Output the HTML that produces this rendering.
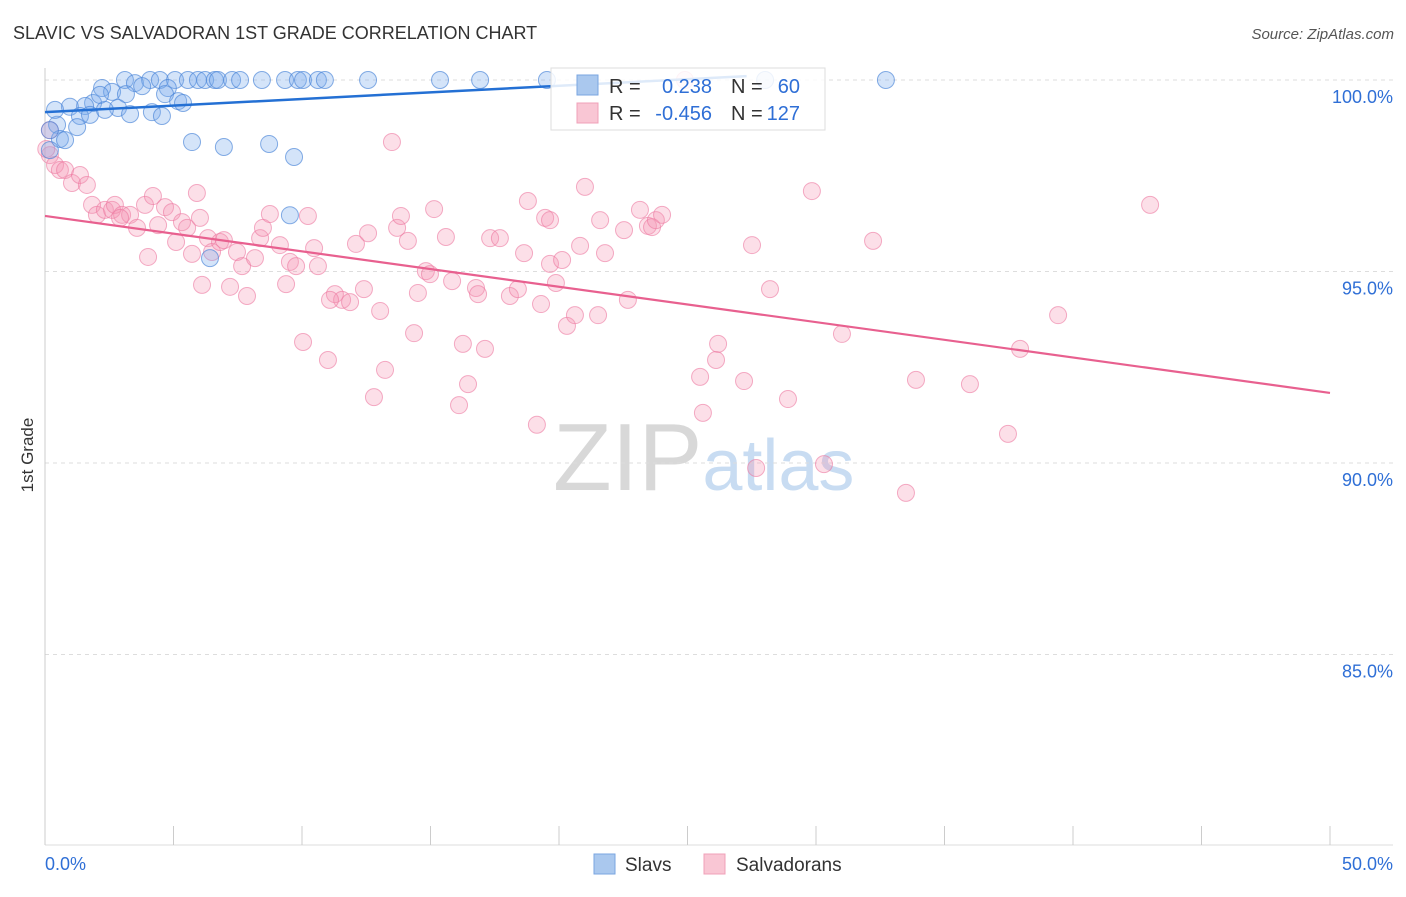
<!DOCTYPE html>
<html><head><meta charset="utf-8"><style>
body{margin:0;background:#fff;font-family:"Liberation Sans",sans-serif}
svg text{font-family:"Liberation Sans",sans-serif}
</style></head><body>
<svg id="chart" width="1406" height="892" xmlns="http://www.w3.org/2000/svg">
<text x="13" y="39" font-size="18" fill="#333">SLAVIC VS SALVADORAN 1ST GRADE CORRELATION CHART</text>
<text x="1394" y="39" font-size="15" fill="#555" text-anchor="end" font-style="italic">Source: ZipAtlas.com</text>
<text x="553" y="490" font-size="96" font-family="Liberation Serif" fill="#d8d8d8">ZIP<tspan fill="#c8dcf2" font-family="Liberation Sans" font-size="72">atlas</tspan></text>
<g id="grid"></g><g id="axes"></g><g id="marks"></g>
<text transform="translate(33,455) rotate(-90)" font-size="17" fill="#333" text-anchor="middle">1st Grade</text>
<g>
<rect x="551" y="68" width="274" height="62" fill="#fff" fill-opacity="0.85" stroke="#ddd"/>
<rect x="577" y="75" width="21" height="20" fill="#aac8ee" stroke="#7aa6e0"/>
<rect x="577" y="103" width="21" height="20" fill="#f9c6d4" stroke="#f0a0b8"/>
<text x="609" y="93" font-size="20" fill="#333">R =</text><text x="712" y="93" font-size="20" fill="#2f6fd6" text-anchor="end">0.238</text>
<text x="731" y="93" font-size="20" fill="#333">N =</text><text x="800" y="93" font-size="20" fill="#2f6fd6" text-anchor="end">60</text>
<text x="609" y="120" font-size="20" fill="#333">R =</text><text x="712" y="120" font-size="20" fill="#2f6fd6" text-anchor="end">-0.456</text>
<text x="731" y="120" font-size="20" fill="#333">N =</text><text x="800" y="120" font-size="20" fill="#2f6fd6" text-anchor="end">127</text>
</g>
<g>
<rect x="594" y="854" width="21" height="20" fill="#aac8ee" stroke="#7aa6e0"/>
<text x="625" y="871" font-size="19" fill="#333">Slavs</text>
<rect x="704" y="854" width="21" height="20" fill="#f9c6d4" stroke="#f0a0b8"/>
<text x="736" y="871" font-size="19" fill="#333">Salvadorans</text>
</g>
</svg>
<script>
const xTicks=[0,5,10,15,20,25,30,35,40,45,50];
const yTicks=[85,90,95,100];
const slavX=[3.11,3.5,4.09,4.47,5.06,5.56,5.95,6.23,6.61,6.73,7.28,7.59,8.44,9.34,9.84,10.04,10.62,10.89,12.57,15.37,16.93,19.53,28.02,32.72,3.78,4.78,2.22,2.61,3.15,4.67,5.18,5.37,1.87,0.97,1.56,2.84,3.31,4.16,1.36,1.75,4.55,1.25,0.47,0.58,0.78,5.72,6.96,8.72,9.69,9.53,6.42,0.19,0.19,2.33,2.14,0.39];
const slavY=[100,99.92,100,100,100,100,100,100,100,100,100,100,100,100,100,100,100,100,100,100,100,100,100,100,99.84,99.79,99.79,99.69,99.63,99.63,99.45,99.4,99.4,99.3,99.32,99.27,99.11,99.16,99.06,99.09,99.06,98.77,98.83,98.46,98.43,98.38,98.25,98.33,97.99,96.47,95.35,98.69,98.17,99.22,99.61,99.22];
const salX=[0.19,0.19,0.39,0.58,0.78,1.05,1.36,1.63,1.83,2.02,2.33,2.61,2.72,3.0,3.31,3.58,3.89,4.01,4.2,4.4,4.67,4.94,5.1,5.33,5.53,5.72,5.91,6.11,6.34,6.5,6.81,6.96,7.2,7.47,7.67,7.86,8.17,8.37,8.48,8.75,9.14,9.38,9.53,9.77,10.04,10.23,10.47,10.62,11.01,11.28,11.56,11.87,12.1,12.41,12.57,12.8,13.04,13.23,13.5,13.7,13.85,14.12,14.36,14.51,14.82,14.98,15.14,15.6,15.84,16.11,16.26,16.46,16.77,16.85,17.12,17.32,17.7,18.09,18.4,18.64,18.79,19.14,19.3,19.46,19.65,19.88,20.12,20.31,20.62,20.82,21.01,21.52,21.6,21.79,22.53,22.68,23.15,23.46,23.62,23.77,24.01,24.9,25.49,25.6,26.11,26.19,27.2,27.51,27.67,28.21,28.91,29.84,30.31,31.01,32.22,33.5,33.89,35.99,37.47,37.94,39.42,43.0,0.05,2.92,6.03,11.09,19.65];
const salY=[98.69,98.04,97.78,97.65,97.65,97.31,97.52,97.26,96.74,96.48,96.61,96.61,96.74,96.48,96.48,96.14,96.74,95.38,96.97,96.21,96.68,96.55,95.77,96.29,96.14,95.46,97.05,94.65,95.87,95.51,95.77,95.82,94.6,95.51,95.14,94.36,95.35,95.87,96.14,96.5,95.69,94.67,95.25,95.14,93.16,96.45,95.61,95.14,92.69,94.41,94.26,94.2,95.72,94.54,96.0,91.72,93.97,92.43,98.38,96.14,96.45,95.8,93.39,94.44,95.01,94.93,96.63,95.9,94.75,91.51,93.11,92.06,94.57,94.41,92.98,95.87,95.87,94.36,94.54,95.48,96.84,91.0,94.15,96.4,95.2,94.7,95.3,93.58,93.86,95.67,97.21,93.86,96.34,95.48,96.08,94.26,96.61,96.19,96.16,96.34,96.48,100,92.25,91.31,92.69,93.11,92.14,95.69,89.87,94.54,91.67,97.1,89.97,93.37,95.8,89.22,92.17,92.06,90.76,92.98,93.86,96.74,98.2,96.4,96.4,94.26,96.34];
const slavTrend=[[0,99.16],[27.3,100.1]];
const salTrend=[[0,96.45],[50,91.83]];
const X0=45,X1=1330,Y0=80,PER=38.3;
const sx=v=>X0+(v-0)/50*(X1-X0);
const sy=v=>Y0+(100-v)*PER;
const NS='http://www.w3.org/2000/svg';
function mk(t,a,p){const e=document.createElementNS(NS,t);for(const k in a)e.setAttribute(k,a[k]);p.appendChild(e);return e;}
const grid=document.getElementById('grid'),axes=document.getElementById('axes'),marks=document.getElementById('marks');
yTicks.forEach(v=>{
 const l=mk('line',{x1:X0,x2:1393,y1:sy(v),y2:sy(v),stroke:'#ddd','stroke-dasharray':'4,4'},grid);
 
 
 const t=mk('text',{x:1393,y:sy(v)+23,'font-size':18,fill:'#2f6fd6','text-anchor':'end'},grid);
 t.textContent=v.toFixed(1)+'%';
 
 
});
const ya=mk('line',{x1:X0,x2:X0,y1:68,y2:845,stroke:'#ccc'},axes);


const xa=mk('line',{x1:X0,x2:1393,y1:845,y2:845,stroke:'#ddd'},axes);


xTicks.forEach(v=>{
 const l=mk('line',{x1:sx(v),x2:sx(v),y1:826,y2:845,stroke:'#ccc'},axes);
 
 
});
[[0,'start'],[50,'end']].forEach(([v,a])=>{
 const t=mk('text',{x:v==0?sx(v):1393,y:870,'font-size':18,fill:'#2f6fd6','text-anchor':a},axes);
 t.textContent=v.toFixed(1)+'%';
 
 
});
salX.forEach((x,i)=>{
 const c=mk('circle',{cx:sx(x),cy:sy(salY[i]),r:8.5,fill:'rgba(244,150,180,0.3)',stroke:'rgba(236,120,160,0.6)','stroke-width':1},marks);
 
 
});
slavX.forEach((x,i)=>{
 const c=mk('circle',{cx:sx(x),cy:sy(slavY[i]),r:8.5,fill:'rgba(120,170,235,0.32)',stroke:'rgba(70,130,215,0.65)','stroke-width':1},marks);
 
 
});
const t1=mk('line',{x1:sx(slavTrend[0][0]),y1:sy(slavTrend[0][1]),x2:sx(slavTrend[1][0]),y2:sy(slavTrend[1][1]),stroke:'#2470d4','stroke-width':2.5},marks);


const t2=mk('line',{x1:sx(salTrend[0][0]),y1:sy(salTrend[0][1]),x2:sx(salTrend[1][0]),y2:sy(salTrend[1][1]),stroke:'#e8608f','stroke-width':2.2},marks);


</script>
</body></html>
